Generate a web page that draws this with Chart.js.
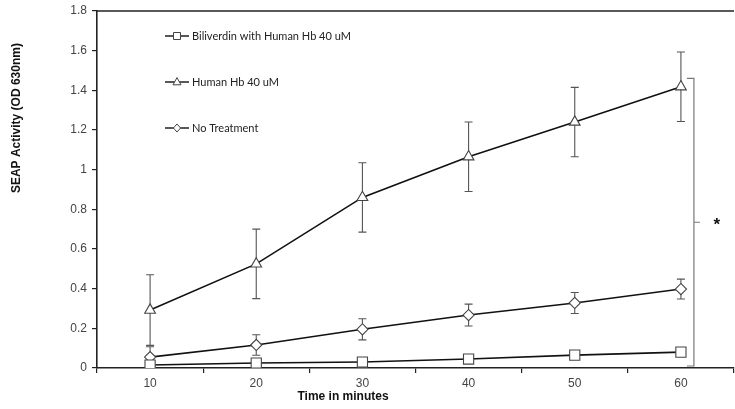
<!DOCTYPE html>
<html>
<head>
<meta charset="utf-8">
<script src="https://cdn.jsdelivr.net/npm/chart.js@4/dist/chart.umd.min.js"></script>
<style>
  html, body { margin: 0; padding: 0; background: #fff; }
  #wrap { width: 735px; height: 409px; position: relative; }
</style>
</head>
<body>
<div id="wrap"><canvas id="c" width="735" height="409"></canvas></div>
<script>
// ---- data ----
const categories = ['10', '20', '30', '40', '50', '60'];
const seriesLabels = ['Biliverdin with Human Hb 40 uM', 'Human Hb 40 uM', 'No Treatment'];
const biliverdin = [0.015, 0.025, 0.03, 0.045, 0.065, 0.08];
const biliverdinErr = [0.005, 0.005, 0.005, 0.005, 0.005, 0.005];
const humanHb = [0.292, 0.525, 0.86, 1.065, 1.24, 1.418];
const humanHbErr = [0.178, 0.175, 0.175, 0.175, 0.175, 0.175];
const noTreatment = [0.055, 0.116, 0.195, 0.267, 0.328, 0.398];
const noTreatmentErr = [0.052, 0.052, 0.053, 0.055, 0.053, 0.05];
const yTicks = [0, 0.2, 0.4, 0.6, 0.8, 1, 1.2, 1.4, 1.6, 1.8];
const bracketRange = [0.01, 1.46];
const xTitle = 'Time in minutes';
const yTitle = 'SEAP Activity (OD 630nm)';

const errs = [biliverdinErr, humanHbErr, noTreatmentErr];

function mkDs(label, data, style, radius) {
  return {
    label, data,
    borderColor: '#111', borderWidth: 1.6,
    pointStyle: style, pointRadius: radius, pointHoverRadius: radius,
    pointBackgroundColor: '#fff', pointBorderColor: '#444', pointBorderWidth: 1.1,
    tension: 0, fill: false
  };
}

const errorBars = {
  id: 'errorBars',
  beforeDatasetsDraw(chart) {
    const ctx = chart.ctx, y = chart.scales.y;
    ctx.save();
    ctx.strokeStyle = '#555';
    ctx.lineWidth = 1.1;
    chart.data.datasets.forEach((ds, i) => {
      const meta = chart.getDatasetMeta(i);
      meta.data.forEach((pt, j) => {
        const e = errs[i][j];
        const v = ds.data[j];
        const yt = y.getPixelForValue(v + e), yb = y.getPixelForValue(Math.max(0, v - e));
        const x = pt.x;
        ctx.beginPath();
        ctx.moveTo(x, yt); ctx.lineTo(x, yb);
        ctx.moveTo(x - 4, yt); ctx.lineTo(x + 4, yt);
        ctx.moveTo(x - 4, yb); ctx.lineTo(x + 4, yb);
        ctx.stroke();
      });
    });
    ctx.restore();
  }
};

function drawMarker(ctx, style, r, x, y) {
  ctx.beginPath();
  if (style === 'rect') {
    ctx.rect(x - r, y - r, 2 * r, 2 * r);
  } else if (style === 'triangle') {
    ctx.moveTo(x, y - r * 1.1);
    ctx.lineTo(x + r, y + r * 0.7);
    ctx.lineTo(x - r, y + r * 0.7);
    ctx.closePath();
  } else {
    ctx.moveTo(x, y - r);
    ctx.lineTo(x + r * 0.9, y);
    ctx.lineTo(x, y + r);
    ctx.lineTo(x - r * 0.9, y);
    ctx.closePath();
  }
  ctx.fill();
  ctx.stroke();
}

const decorations = {
  id: 'decorations',
  afterDraw(chart) {
    const ctx = chart.ctx, a = chart.chartArea, xs = chart.scales.x, ys = chart.scales.y;
    ctx.save();
    // top frame line
    ctx.strokeStyle = '#222';
    ctx.lineWidth = 1.5;
    ctx.beginPath();
    ctx.moveTo(a.left, a.top); ctx.lineTo(a.right, a.top);
    ctx.stroke();

    // legend inside plot
    const lx = a.left + 68, ly0 = a.top + 25, dy = 46;
    chart.data.datasets.forEach((ds, i) => {
      const yy = ly0 + i * dy;
      ctx.strokeStyle = '#111'; ctx.lineWidth = 1.4;
      ctx.beginPath(); ctx.moveTo(lx, yy); ctx.lineTo(lx + 24, yy); ctx.stroke();
      ctx.fillStyle = '#fff'; ctx.strokeStyle = '#444'; ctx.lineWidth = 1;
      drawMarker(ctx, ds.pointStyle, ds.pointStyle === 'rect' ? 3.5 : 4, lx + 12, yy);
      ctx.fillStyle = '#222';
      ctx.font = '11px Lato, "Liberation Sans", sans-serif';
      ctx.textAlign = 'left'; ctx.textBaseline = 'middle';
      ctx.fillText(ds.label, lx + 27, yy + 0.5);
    });

    // significance bracket
    const bx = xs.getPixelForValue(5) + 13;
    const yt = ys.getPixelForValue(bracketRange[1]);
    const yb = ys.getPixelForValue(bracketRange[0]);
    const ym = (yt + yb) / 2;
    ctx.strokeStyle = '#777'; ctx.lineWidth = 1.2;
    ctx.beginPath();
    ctx.moveTo(bx - 7, yt); ctx.lineTo(bx, yt); ctx.lineTo(bx, yb); ctx.lineTo(bx - 7, yb);
    ctx.moveTo(bx, ym); ctx.lineTo(bx + 6, ym);
    ctx.stroke();
    ctx.fillStyle = '#111';
    ctx.font = 'bold 17px "Liberation Sans", Arial, sans-serif';
    ctx.textAlign = 'center'; ctx.textBaseline = 'middle';
    ctx.fillText('*', bx + 23, ym + 3);

    // axis titles
    ctx.fillStyle = '#111';
    ctx.font = 'bold 12px "Liberation Sans", Arial, sans-serif';
    ctx.textAlign = 'center'; ctx.textBaseline = 'middle';
    ctx.fillText(xTitle, 343, 397);
    ctx.save();
    ctx.translate(17, ys.getPixelForValue(1.26));
    ctx.rotate(-Math.PI / 2);
    ctx.fillText(yTitle, 0, 0);
    ctx.restore();
    ctx.restore();
  }
};

new Chart(document.getElementById('c'), {
  type: 'line',
  data: {
    labels: categories,
    datasets: [
      mkDs(seriesLabels[0], biliverdin, 'rect', 7.2),
      mkDs(seriesLabels[1], humanHb, 'triangle', 6.2),
      mkDs(seriesLabels[2], noTreatment, 'rectRot', 5.6)
    ]
  },
  options: {
    responsive: false, animation: false,
    events: [],
    layout: { autoPadding: false, padding: { left: 0, right: 1, top: 11, bottom: 0 } },
    plugins: { legend: { display: false }, tooltip: { enabled: false } },
    scales: {
      x: {
        offset: true,
        afterFit: s => { s.height = 41; s.paddingLeft = 0; s.paddingRight = 0; },
        grid: { offset: true, drawOnChartArea: false, drawTicks: true, tickLength: 5, color: '#222', lineWidth: 1.2 },
        border: { display: true, color: '#222', width: 1.6 },
        ticks: { color: '#444', font: { family: '"Liberation Sans", Arial, sans-serif', size: 12 }, padding: 3, maxRotation: 0 }
      },
      y: {
        min: 0, max: 1.8,
        afterFit: s => { s.width = 97; s.paddingTop = 0; s.paddingBottom = 0; },
        afterBuildTicks: s => { s.ticks = yTicks.map(v => ({ value: v })); },
        grid: { drawOnChartArea: false, drawTicks: true, tickLength: 5, color: '#222', lineWidth: 1.2 },
        border: { display: true, color: '#222', width: 1.6 },
        ticks: {
          color: '#444', font: { family: '"Liberation Sans", Arial, sans-serif', size: 12 }, padding: 5,
          callback: v => String(Math.round(v * 10) / 10)
        }
      }
    }
  },
  plugins: [errorBars, decorations]
});
</script>
</body>
</html>
